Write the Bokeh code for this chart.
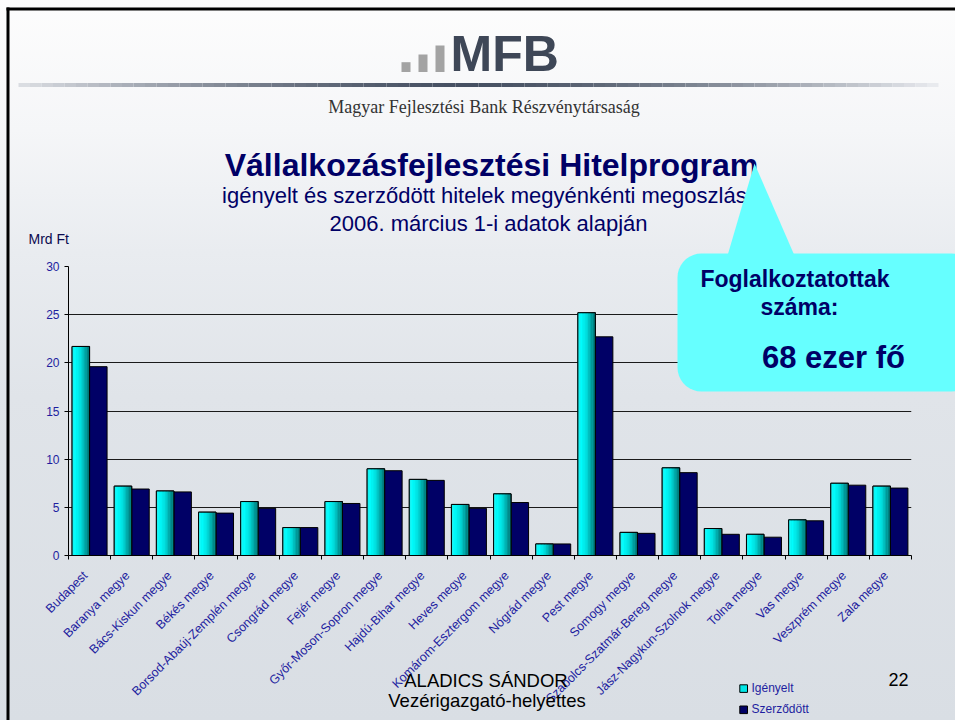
import numpy as np
from math import pi
from bokeh.plotting import figure
from bokeh.models import Range1d, LinearAxis, FixedTicker, ColumnDataSource
from bokeh.core.properties import value
from bokeh.embed import file_html
from bokeh.resources import INLINE

# ---------------- data ----------------
counties = ["Budapest", "Baranya megye", "Bács-Kiskun megye", "Békés megye",
            "Borsod-Abaúj-Zemplén megye", "Csongrád megye", "Fejér megye",
            "Győr-Moson-Sopron megye", "Hajdú-Bihar megye", "Heves megye",
            "Komárom-Esztergom megye", "Nógrád megye", "Pest megye", "Somogy megye",
            "Szabolcs-Szatmár-Bereg megye", "Jász-Nagykun-Szolnok megye",
            "Tolna megye", "Vas megye", "Veszprém megye", "Zala megye"]
igenyelt = [21.7, 7.2, 6.7, 4.5, 5.6, 2.9, 5.6, 9.0, 7.9, 5.3,
            6.4, 1.2, 25.2, 2.4, 9.1, 2.8, 2.2, 3.7, 7.5, 7.2]
szerzodott = [19.6, 6.9, 6.6, 4.4, 4.9, 2.9, 5.4, 8.8, 7.8, 4.9,
              5.5, 1.2, 22.7, 2.3, 8.6, 2.2, 1.9, 3.6, 7.3, 7.0]
y_ticks = [0, 5, 10, 15, 20, 25, 30]
legend_labels = ["Igényelt", "Szerződött"]

logo_text = "MFB"
bank_name = "Magyar Fejlesztési Bank Részvénytársaság"
title_text = "Vállalkozásfejlesztési Hitelprogram"
subtitle_1 = "igényelt és szerződött hitelek megyénkénti megoszlása"
subtitle_2 = "2006. március 1-i adatok alapján"
y_unit = "Mrd Ft"
callout_lines = ["Foglalkoztatottak", "száma:", "68 ezer fő"]
footer_name = "ALADICS SÁNDOR"
footer_role = "Vezérigazgató-helyettes"
page_no = "22"

# ---------------- style ----------------
FONT = "Liberation Sans"
NAVY = "#000066"
LABEL_BLUE = "#1e1ea0"
CYAN = "#00e6e6"
W, H = 955, 720
FX0, FX1 = 68.0, 911.0     # frame left/right (px)
FY1, FY0 = 266.0, 555.0    # frame top/bottom (px)
Y_MAX = 30
NCAT = len(counties)
BW = 0.415
LABEL_SHIFT = 0.1          # category label anchor sits slightly left of the centre

idx = np.arange(NCAT)
centers = idx + 0.5
src = ColumnDataSource(dict(county=counties, igenyelt=igenyelt, szerzodott=szerzodott,
                            xc=centers - BW / 2, xn=centers + BW / 2))

p = figure(width=W, height=H, x_range=Range1d(0, NCAT), y_range=Range1d(0, Y_MAX),
           x_axis_location=None, output_backend="svg", toolbar_location=None,
           min_border_left=int(FX0), min_border_right=int(W - FX1),
           min_border_top=int(FY1), min_border_bottom=int(H - FY0))
p.border_fill_color = None
p.background_fill_color = None
p.outline_line_color = None
p.styles = {"background": "linear-gradient(180deg, #fdfdfd 0%, #f5f6f8 18%, "
                          "#e9ecf0 35%, #e0e4e9 55%, #d9dee4 100%)"}

# y axis
yax = p.yaxis[0]
yax.ticker = FixedTicker(ticks=y_ticks)
yax.major_label_text_font = FONT
yax.major_label_text_font_size = "12px"
yax.major_label_text_color = LABEL_BLUE
yax.major_tick_out = 4
yax.major_tick_in = 0
yax.minor_tick_line_color = None
yax.axis_line_color = "black"
yax.major_tick_line_color = "black"
yax.major_label_standoff = 5

p.ygrid.ticker = FixedTicker(ticks=y_ticks[1:])
p.ygrid.grid_line_color = "#1a1a1a"
p.xgrid.visible = False

# x axes: boundary ticks (nearest the frame) + category labels at centres
edge_ticks = [int(i) for i in range(NCAT + 1)]
edge_axis = LinearAxis(ticker=FixedTicker(ticks=edge_ticks),
                       major_label_overrides={t: "" for t in edge_ticks},
                       major_tick_out=4, major_tick_in=0, minor_tick_line_color=None,
                       axis_line_color="black", major_tick_line_color="black",
                       major_label_standoff=0, major_label_text_font_size="1px")
cat_ticks = [round(float(c) - LABEL_SHIFT, 3) for c in centers]
cat_axis = LinearAxis(ticker=FixedTicker(ticks=cat_ticks),
                      major_label_overrides={c: n for c, n in zip(cat_ticks, counties)},
                      major_label_orientation=pi / 4, major_tick_line_color=None,
                      major_tick_out=0, major_tick_in=0, axis_line_color=None,
                      minor_tick_line_color=None,
                      major_label_text_font=FONT, major_label_text_font_size="12.5px",
                      major_label_text_color=LABEL_BLUE, major_label_standoff=14)
p.add_layout(edge_axis, "below")
p.add_layout(cat_axis, "below")

# ---------------- bars ----------------
p.vbar(x="xc", top="igenyelt", width=BW, source=src,
       fill_color=CYAN, line_color="black", line_width=1)
p.vbar(x="xn", top="szerzodott", width=BW, source=src,
       fill_color=NAVY, line_color="black", line_width=1)

stops = [(0.0, (45, 235, 235)), (0.18, (0, 255, 255)), (0.5, (0, 222, 222)),
         (0.8, (0, 150, 150)), (1.0, (0, 105, 105))]


def grad(t):
    for (t0, c0), (t1, c1) in zip(stops[:-1], stops[1:]):
        if t0 <= t <= t1:
            f = (t - t0) / (t1 - t0)
            c = [int(round(a + (b - a) * f)) for a, b in zip(c0, c1)]
            return "#%02x%02x%02x" % tuple(c)
    return "#%02x%02x%02x" % stops[-1][1]


NS = 12
sw = BW / NS
for k in range(NS):
    off = -BW + (k + 0.5) * sw
    ssrc = ColumnDataSource(dict(x=centers + off, top=igenyelt))
    p.vbar(x="x", top="top", width=sw * 1.1, source=ssrc,
           fill_color=grad((k + 0.5) / NS), line_color=None)

p.vbar(x="xc", top="igenyelt", width=BW, source=src,
       fill_color=None, line_color="black", line_width=1)


# ---------------- slide decoration (pixel layout -> data space) ----------------
def dx(px):
    return (np.asarray(px, float) - FX0) / (FX1 - FX0) * NCAT


def dy(py):
    return (FY0 - np.asarray(py, float)) / (FY0 - FY1) * Y_MAX


K_BASE = 0.37   # empirical correction of the rendered baseline


def txt(x, y, s, size, color, style="normal", align="center", font=FONT):
    px = float(size.replace("px", ""))
    p.text(x=[float(dx(x))], y=[float(dy(y - K_BASE * px))], text=[s],
           text_font=value(font), text_font_size=size, text_font_style=style,
           text_color=color, text_align=align, text_baseline="alphabetic",
           level="overlay")


# slide frame (top and left)
p.segment(x0=[float(dx(6)), float(dx(7.5))], y0=[float(dy(8.5)), float(dy(7))],
          x1=[float(dx(955)), float(dx(7.5))], y1=[float(dy(8.5)), float(dy(720))],
          line_color="black", line_width=3, level="overlay")

# logo bars + MFB
lb_l, lb_r = [401, 418, 435], [410, 427, 444]
lb_t, lb_b = [61.7, 54.0, 45.0], [71.5, 71.5, 71.5]
p.quad(left=dx(lb_l), right=dx(lb_r), top=dy(lb_t), bottom=dy(lb_b),
       fill_color="#a3a3a3", line_color=None, level="overlay")
txt(450, 71.5, logo_text, "50px", "#3e4757", style="bold", align="left")

# gradient rule under the logo
gx = np.linspace(18, 938, 81)
mid = (gx[:-1] + gx[1:]) / 2
tt = np.clip(np.abs(mid - 465) / 470, 0, 1) ** 1.5
dark, light = np.array([70, 80, 98]), np.array([233, 235, 239])
gcols = ["#%02x%02x%02x" % tuple(np.round(dark * (1 - t) + light * t).astype(int)) for t in tt]
p.segment(x0=dx(gx[:-1]), x1=dx(gx[1:]), y0=[float(dy(84.5))] * len(mid),
          y1=[float(dy(84.5))] * len(mid), line_color=gcols, line_width=4, level="overlay")

txt(483.5, 113, bank_name, "18px", "#333333", font="Liberation Serif")
txt(491, 176, title_text, "32px", NAVY, style="bold")
txt(490, 203, subtitle_1, "22px", NAVY)
txt(488, 231, subtitle_2, "22px", NAVY)
txt(28, 244, y_unit, "14px", "#0a0a50", align="left")

# callout
CY = "#66ffff"
p.patch(x=dx([725, 754, 797]), y=dy([262, 163, 262]), fill_color=CY, line_color=None,
        level="overlay")
l, r, t, b, rad = 677, 975, 253, 391, 24
pts = []
for cx, cy, a0 in [(l + rad, t + rad, 180), (r - rad, t + rad, 270),
                   (r - rad, b - rad, 0), (l + rad, b - rad, 90)]:
    for a in np.linspace(a0, a0 + 90, 10):
        pts.append((cx + rad * np.cos(np.radians(a)), cy + rad * np.sin(np.radians(a))))
pts = np.array(pts)
p.patch(x=dx(pts[:, 0]), y=dy(pts[:, 1]), fill_color=CY, line_color=None, level="overlay")
txt(794.5, 287, callout_lines[0], "23px", NAVY, style="bold")
txt(799, 315.5, callout_lines[1], "23px", NAVY, style="bold")
txt(833, 368, callout_lines[2], "31px", NAVY, style="bold")

# footer
txt(485.5, 687, footer_name, "18.5px", "black")
txt(486.5, 706.5, footer_role, "18.5px", "black")
txt(888, 686, page_no, "18px", "black", align="left")

# legend (drawn as slide elements below the axis)
lg_top = [684.3, 705.5]
p.quad(left=dx([739.3, 739.3]), right=dx([747, 747]), top=dy(lg_top),
       bottom=dy([y + 7.6 for y in lg_top]), fill_color=[CYAN, NAVY],
       line_color="black", line_width=1, level="overlay")
for lab, yb in zip(legend_labels, [692, 713]):
    txt(751, yb, lab, "12px", LABEL_BLUE, align="left")

open("out.html", "w").write(file_html(p, INLINE))
